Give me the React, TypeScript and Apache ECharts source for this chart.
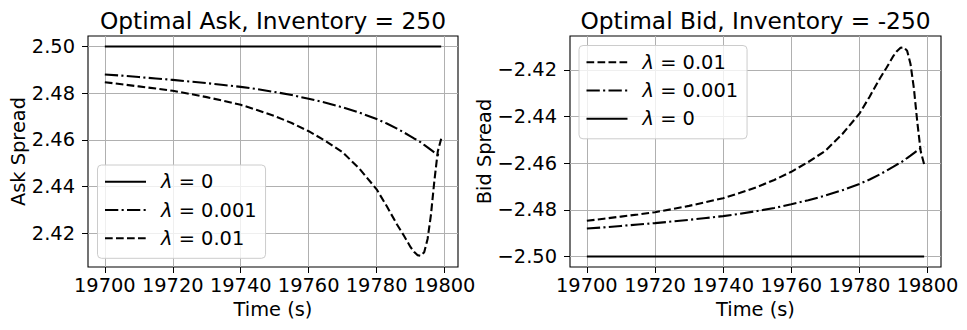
import React, { useEffect, useRef } from "react";
import * as echarts from "echarts";

// ---- Data ----
const times = [19700, 19705, 19710, 19715, 19720, 19725, 19730, 19735, 19740, 19745, 19750, 19755, 19760, 19765, 19770, 19775, 19780, 19783, 19786, 19788, 19790, 19791, 19792, 19793, 19794, 19795, 19796, 19797, 19798, 19799];
const flatTimes = [19700, 19799];

// Optimal Ask, inventory = 250
const askLam0 = [2.5, 2.5];
const askLam0001 = [2.488, 2.4875, 2.4869, 2.4863, 2.4857, 2.485, 2.4843, 2.4835, 2.4827, 2.4817, 2.4805, 2.4792, 2.4776, 2.4759, 2.4739, 2.4716, 2.4689, 2.467, 2.4648, 2.4632, 2.4615, 2.4606, 2.4599, 2.4589, 2.4578, 2.4568, 2.4557, 2.4546, 2.4536, 2.453];
const askLam001 = [2.4847, 2.4838, 2.4829, 2.482, 2.481, 2.4797, 2.4783, 2.4767, 2.475, 2.4727, 2.4702, 2.4672, 2.4637, 2.4595, 2.4547, 2.4475, 2.4388, 2.4315, 2.4237, 2.419, 2.414, 2.412, 2.4106, 2.4103, 2.4118, 2.4175, 2.428, 2.4425, 2.455, 2.4605];

// Optimal Bid, inventory = -250
const bidLam0 = [-2.5, -2.5];
const bidLam0001 = [-2.488, -2.4875, -2.4869, -2.4863, -2.4857, -2.485, -2.4843, -2.4835, -2.4827, -2.4817, -2.4805, -2.4792, -2.4776, -2.4759, -2.4739, -2.4716, -2.4689, -2.467, -2.4648, -2.4632, -2.4615, -2.4606, -2.4599, -2.4589, -2.4578, -2.4568, -2.4557, -2.4546, -2.4536, -2.453];
const bidLam001 = [-2.4847, -2.4838, -2.4829, -2.482, -2.481, -2.4797, -2.4783, -2.4767, -2.475, -2.4727, -2.4702, -2.4672, -2.4637, -2.4595, -2.4547, -2.4475, -2.4388, -2.4315, -2.4237, -2.419, -2.414, -2.412, -2.4106, -2.4103, -2.4118, -2.4175, -2.428, -2.4425, -2.455, -2.4605];

const xTicks = [19700, 19720, 19740, 19760, 19780, 19800];
const askTicks = [2.42, 2.44, 2.46, 2.48, 2.5];
const bidTicks = [-2.5, -2.48, -2.46, -2.44, -2.42];

const names = { l0: "λ = 0", l0001: "λ = 0.001", l001: "λ = 0.01" };
const titles = ["Optimal Ask, Inventory = 250", "Optimal Bid, Inventory = -250"];

const FONT = "DejaVu Sans";
const FS = 19.4;
const TFS = 23.3;
const dashed = [7.7, 3.3];
const dashDot = [13.3, 3.3, 2.1, 3.3];

const zip = (xs: number[], ys: number[]) => xs.map((x, i) => [x, ys[i]]);

export default function App() {
  const ref = useRef<HTMLDivElement>(null);
  useEffect(() => {
    if (!ref.current) return;
    const chart = echarts.init(ref.current, null, { renderer: "svg" });

    const xAxisBase = (gridIndex: number) => ({
      type: "value",
      gridIndex,
      min: 19695.05,
      max: 19803.95,
      name: "Time (s)",
      nameLocation: "middle",
      nameGap: 33,
      nameTextStyle: { color: "#000", fontSize: FS, fontFamily: FONT },
      axisLine: { show: false },
      axisTick: { show: true, customValues: xTicks, length: 6, lineStyle: { color: "#000", width: 1 } },
      axisLabel: { customValues: xTicks, color: "#000", fontSize: FS, fontFamily: FONT, margin: 9, formatter: (v: number) => String(v) },
      splitLine: { show: true, lineStyle: { color: "#b0b0b0", width: 1 } },
    });

    const fmtNeg = (v: number) => (v < 0 ? "\u2212" : "") + Math.abs(v).toFixed(2);

    const yAxisBase = (gridIndex: number, min: number, max: number, ticks: number[], name: string, gap: number) => ({
      type: "value",
      gridIndex,
      min,
      max,
      name,
      nameLocation: "middle",
      nameGap: gap,
      nameRotate: 90,
      nameTextStyle: { color: "#000", fontSize: FS, fontFamily: FONT },
      axisLine: { show: false },
      axisTick: { show: true, customValues: ticks, length: 6, lineStyle: { color: "#000", width: 1 } },
      axisLabel: { customValues: ticks, color: "#000", fontSize: FS, fontFamily: FONT, margin: 13, formatter: fmtNeg },
      splitLine: { show: true, lineStyle: { color: "#b0b0b0", width: 1 } },
    });

    const line = (name: string, data: number[][], idx: number, type: any, z: number) => ({
      type: "line",
      name,
      xAxisIndex: idx,
      yAxisIndex: idx,
      data,
      symbol: "none",
      showSymbol: false,
      smooth: false,
      z,
      lineStyle: { color: "#000", width: 2.1, type },
      itemStyle: { color: "#000" },
    });

    const legendText = {
      color: "#000",
      fontSize: FS,
      fontFamily: FONT,
      lineHeight: 22,
      rich: {
        i: { fontStyle: "italic", fontSize: FS, fontFamily: FONT, color: "#000", padding: [0, 0, 0, 10], lineHeight: 22 },
        t: { fontSize: FS, fontFamily: FONT, color: "#000", lineHeight: 22 },
      },
    };
    const legendFmt = (n: string) => "{i|λ}{t|" + n.slice(1) + "}";

    const legendBase = (left: number, top: number, data: string[]) => ({
      orient: "vertical",
      left,
      top,
      data,
      itemWidth: 41,
      itemHeight: 14,
      itemGap: 6.3,
      padding: [5.7, 9, 9, 6.5],
      backgroundColor: "rgba(255,255,255,0.8)",
      borderColor: "#cccccc",
      borderWidth: 1,
      borderRadius: 4,
      selectedMode: false,
      textStyle: legendText,
      formatter: legendFmt,
      itemStyle: { color: "rgba(0,0,0,0)", borderWidth: 0, opacity: 0 },
    });

    chart.setOption({
      animation: false,
      backgroundColor: "#fff",
      textStyle: { fontFamily: FONT },
      grid: [
        { left: 88, top: 36, width: 370, height: 231, show: true, borderColor: "#000", borderWidth: 1.1, backgroundColor: "transparent" },
        { left: 570, top: 36, width: 371, height: 231, show: true, borderColor: "#000", borderWidth: 1.1, backgroundColor: "transparent" },
      ],
      xAxis: [xAxisBase(0), xAxisBase(1)],
      yAxis: [
        yAxisBase(0, 2.4055, 2.5045, askTicks, "Ask Spread", 58),
        yAxisBase(1, -2.5045, -2.4055, bidTicks, "Bid Spread", 73),
      ],
      legend: [
        legendBase(97.5, 165, [names.l0, names.l0001, names.l001]),
        legendBase(579, 45.5, [names.l001, names.l0001, names.l0]),
      ],
      graphic: [
        { type: "text", x: 273, y: 20, style: { text: titles[0], fill: "#000", font: `${TFS}px '${FONT}'`, textAlign: "center", textVerticalAlign: "middle" } },
        { type: "text", x: 755.5, y: 20, style: { text: titles[1], fill: "#000", font: `${TFS}px '${FONT}'`, textAlign: "center", textVerticalAlign: "middle" } },
      ],
      series: [
        line(names.l0, zip(flatTimes, askLam0), 0, "solid", 3),
        line(names.l0001, zip(times, askLam0001), 0, dashDot, 3),
        line(names.l001, zip(times, askLam001), 0, dashed, 3),
        line(names.l001, zip(times, bidLam001), 1, dashed, 3),
        line(names.l0001, zip(times, bidLam0001), 1, dashDot, 3),
        line(names.l0, zip(flatTimes, bidLam0), 1, "solid", 3),
      ],
    });
    return () => chart.dispose();
  }, []);
  return <div ref={ref} style={{ width: 967, height: 330, margin: -8 }} />;
}
